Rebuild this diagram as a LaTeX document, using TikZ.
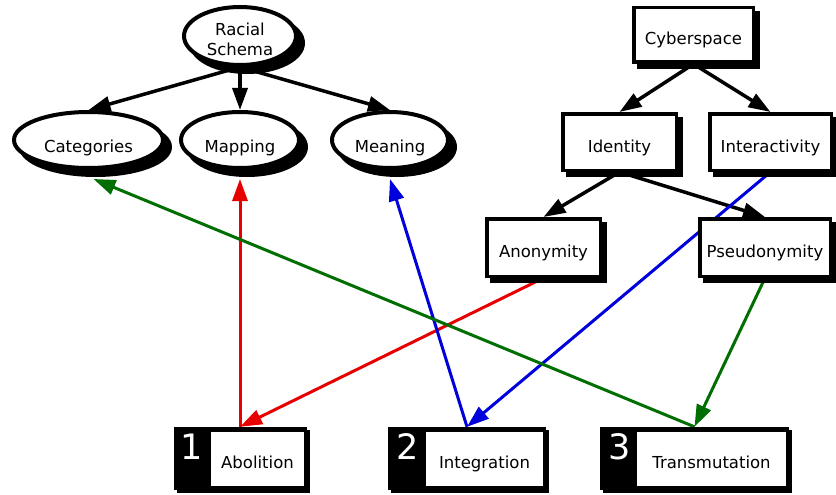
\documentclass[tikz,border=0pt]{standalone}
\usepackage{fontspec}
\setmainfont{DejaVu Sans}
\usetikzlibrary{arrows.meta,shapes.geometric,backgrounds}
\definecolor{ered}{RGB}{230,0,0}
\definecolor{eblue}{RGB}{0,0,220}
\definecolor{egreen}{RGB}{0,110,0}
\begin{document}
\begin{tikzpicture}[x=1pt,y=-1pt,
  lbl/.style={font=\fontsize{16.5}{20}\selectfont},
  ell/.style={ellipse, draw=black, fill=white, line width=4pt, inner sep=0pt, lbl, minimum height=56pt,
     preaction={draw=black, fill=black, transform canvas={xshift=7pt,yshift=-7pt}}},
  box/.style={rectangle, draw=black, fill=white, line width=3.5pt, inner sep=0pt, lbl, text height=20pt, text depth=0pt,
     preaction={draw=black, fill=black, transform canvas={xshift=5pt,yshift=-5pt}}},
  outerbox/.style={rectangle, fill=black, inner sep=0pt, minimum height=63pt,
     preaction={fill=black, transform canvas={xshift=3pt,yshift=-3pt}}},
  innerbox/.style={rectangle, fill=white, inner sep=0pt, minimum height=54pt, lbl, text height=18pt, text depth=0pt},
  num/.style={text=white, font=\fontsize{35}{35}\selectfont, inner sep=0pt, anchor=base},
  blk/.style={draw=black, line width=3.5pt, -{Triangle[length=22pt,width=15pt]}},
  col/.style={line width=3pt, -{Triangle[length=22pt,width=15pt]}},
]
\useasboundingbox (0,0) rectangle (836,495);

% ellipses
\node[ell, minimum width=112pt, minimum height=58pt, align=center, text height=39pt, text depth=0pt] (rs) at (240,36) {Racial\\Schema};
\node[ell, minimum width=149pt, text height=24pt, text depth=0pt] (cat) at (88.5,140) {Categories};
\node[ell, minimum width=118pt, text height=24pt, text depth=0pt] (map) at (240,140) {Mapping};
\node[ell, minimum width=116pt, text height=24pt, text depth=0pt] (mea) at (390,140) {Meaning};

% boxes
\node[box, minimum width=119.5pt, minimum height=54.5pt] (cyb) at (693.5,35) {Cyberspace};
\node[box, minimum width=113.5pt, minimum height=56.5pt] (idn) at (619.5,142) {Identity};
\node[box, minimum width=121.5pt, minimum height=56.5pt] (int) at (770.5,142) {Interactivity};
\node[box, minimum width=113.5pt, minimum height=57.5pt] (ano) at (543.5,247.5) {Anonymity};
\node[box, minimum width=130.5pt, minimum height=57.5pt] (pse) at (765,247.5) {Pseudonymity};

% bottom boxes
\node[outerbox, minimum width=133pt] (abo) at (240,458.5) {};
\node[innerbox, minimum width=93pt] (aboT) at (257.5,459) {Abolition};
\node[num] (aboN) at (192,459) {1};

\node[outerbox, minimum width=158pt] (itg) at (467,458.5) {};
\node[innerbox, minimum width=117pt] (itgT) at (484.5,459) {Integration};
\node[num] (itgN) at (408,459) {2};

\node[outerbox, minimum width=189pt] (trm) at (694.5,458.5) {};
\node[innerbox, minimum width=149pt] (trmT) at (711.5,459) {Transmutation};
\node[num] (trmN) at (620,459) {3};

\begin{scope}[on background layer]
  \draw[blk] (rs.south) -- (cat.north);
  \draw[blk] (rs.south) -- (map.north);
  \draw[blk] (rs.south) -- (mea.north);
  \draw[blk] (cyb.south) -- (idn.north);
  \draw[blk] (cyb.south) -- (int.north);
  \draw[blk] (idn.south) -- (ano.north);
  \draw[blk] (idn.south) -- (pse.north);

  \draw[col, ered] (ano.south) -- (abo.north);
  \draw[col, ered] (abo.north) -- ([yshift=-9pt]map.south);
  \draw[col, eblue] (int.south) -- (itg.north);
  \draw[col, eblue] (itg.north) -- ([yshift=-9pt]mea.south);
  \draw[col, egreen] (pse.south) -- (trm.north);
  \draw[col, egreen] (trm.north) -- ([xshift=5pt,yshift=-9pt]cat.south);
\end{scope}
\end{tikzpicture}
\end{document}
